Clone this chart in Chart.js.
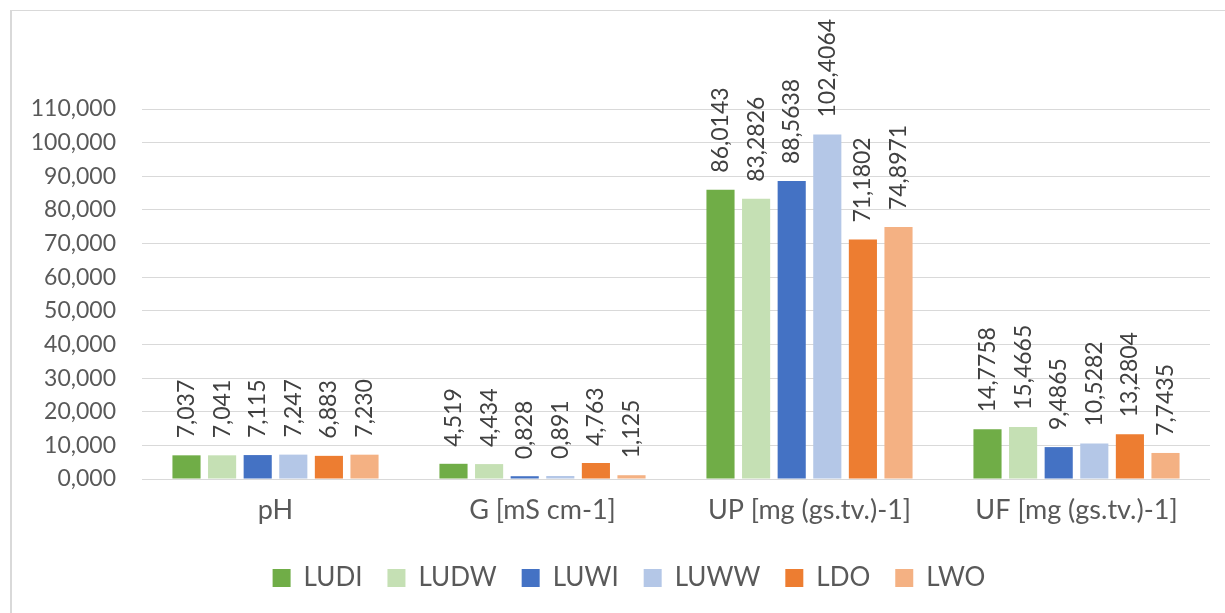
<!DOCTYPE html>
<html>
<head>
<meta charset="utf-8">
<script src="https://cdn.jsdelivr.net/npm/chart.js@4"></script>
<style>
  html, body { margin: 0; padding: 0; background: #ffffff; overflow: hidden; }
  #wrap { position: absolute; left: 0; top: 0; width: 1225px; height: 613px; }
  #frame { position: absolute; left: 10px; top: 10px; width: 1300px; height: 700px;
           border-top: 1px solid #d9d9d9; border-left: 2px solid #d9d9d9; pointer-events: none; }
</style>
</head>
<body>
<div id="wrap">
  <canvas id="c" width="1225" height="613"></canvas>
  <div id="frame"></div>
</div>
<script>
const categories = ['pH', 'G [mS cm-1]', 'UP [mg (gs.tv.)-1]', 'UF [mg (gs.tv.)-1]'];
const decimals = [3, 3, 4, 4];
const seriesNames = ['LUDI', 'LUDW', 'LUWI', 'LUWW', 'LDO', 'LWO'];
const LUDI = [7.037, 4.519, 86.0143, 14.7758];
const LUDW = [7.041, 4.434, 83.2826, 15.4665];
const LUWI = [7.115, 0.828, 88.5638, 9.4865];
const LUWW = [7.247, 0.891, 102.4064, 10.5282];
const LDO  = [6.883, 4.763, 71.1802, 13.2804];
const LWO  = [7.230, 1.125, 74.8971, 7.7435];
const seriesValues = [LUDI, LUDW, LUWI, LUWW, LDO, LWO];
const colors = ['#70AD47', '#C5E0B4', '#4472C4', '#B4C7E7', '#ED7D31', '#F4B183'];
const yMin = 0, yMax = 110, yStep = 10;

const FONT = 'Lato, "Open Sans", "Liberation Sans", sans-serif';

const fmt = (v, d) => v.toFixed(d).replace('.', ',');

const labelPlugin = {
  id: 'rotLabels',
  afterDatasetsDraw(chart) {
    const ctx = chart.ctx;
    ctx.save();
    ctx.font = '23px ' + FONT;
    ctx.fillStyle = '#404040';
    ctx.textAlign = 'left';
    ctx.textBaseline = 'middle';
    chart.data.datasets.forEach((ds, di) => {
      const meta = chart.getDatasetMeta(di);
      meta.data.forEach((el, i) => {
        const txt = fmt(ds.data[i], decimals[i]);
        ctx.save();
        ctx.translate(el.x, el.y - 17);
        ctx.rotate(-Math.PI / 2);
        ctx.fillText(txt, 0, 0);
        ctx.restore();
      });
    });
    ctx.restore();
  }
};

const legendShift = {
  id: 'legendShift',
  beforeDraw(chart) {
    const lg = chart.legend;
    if (lg && !lg._shifted) {
      lg.left += 18; lg.right += 18; lg._shifted = true;
    }
  }
};

new Chart(document.getElementById('c'), {
  type: 'bar',
  data: {
    labels: categories,
    datasets: seriesNames.map((n, i) => ({
      label: n,
      data: seriesValues[i],
      backgroundColor: colors[i],
      borderWidth: 0,
      categoryPercentage: 0.8,
      barPercentage: 0.79
    }))
  },
  options: {
    responsive: false,
    animation: false,
    devicePixelRatio: 1,
    layout: { padding: { top: 109, left: 12, right: 15, bottom: 12 } },
    plugins: {
      tooltip: { enabled: false },
      legend: {
        position: 'bottom',
        labels: {
          font: { family: FONT, size: 26 },
          color: '#595959',
          boxWidth: 18,
          boxHeight: 18,
          padding: 25
        }
      }
    },
    scales: {
      x: {
        grid: { display: false, drawTicks: false },
        border: { display: false },
        ticks: { font: { family: FONT, size: 27 }, color: '#595959', padding: 15 },
        afterFit(s) { s.height = 61; }
      },
      y: {
        min: yMin, max: yMax,
        grid: { color: '#D9D9D9', lineWidth: 1, drawTicks: false },
        border: { display: false },
        ticks: {
          stepSize: yStep,
          font: { family: FONT, size: 23 },
          color: '#595959',
          padding: 26,
          callback: (v) => fmt(v, 3)
        },
        afterFit(s) { s.width = 130; }
      }
    }
  },
  plugins: [labelPlugin, legendShift]
});
</script>
</body>
</html>
